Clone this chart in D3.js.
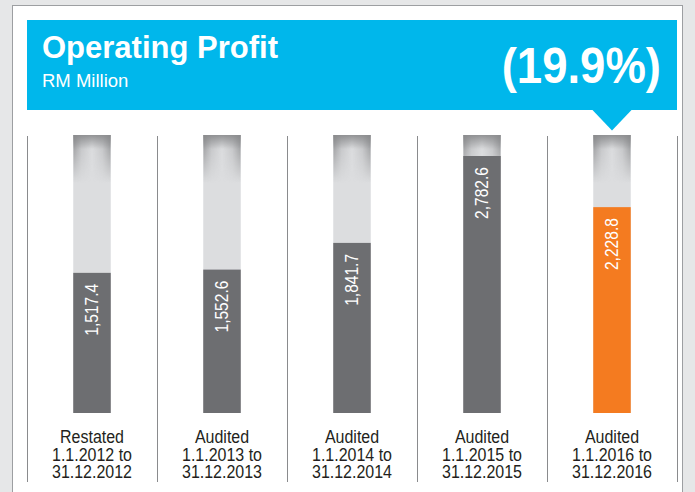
<!DOCTYPE html>
<html>
<head>
<meta charset="utf-8">
<script src="https://cdn.jsdelivr.net/npm/d3@7"></script>
<style>
  body { margin: 0; background: #e6e7e8; }
  text { font-family: "Liberation Sans", Arial, sans-serif; }
</style>
</head>
<body>
<script>
var periods = ['2012', '2013', '2014', '2015', '2016']
var statuses = ['Restated', 'Audited', 'Audited', 'Audited', 'Audited']
var fromDates = ['1.1.2012 to', '1.1.2013 to', '1.1.2014 to', '1.1.2015 to', '1.1.2016 to']
var toDates = ['31.12.2012', '31.12.2013', '31.12.2014', '31.12.2015', '31.12.2016']
var profit = [1517.4, 1552.6, 1841.7, 2782.6, 2228.8]
var highlight = '2016'
var change = '(19.9%)'

var W = 695, H = 492
var squeeze = 0.865 // the original type is a condensed face

var svg = d3.select('body').append('svg').attr('width', W).attr('height', H)

var defs = svg.append('defs')

var side = defs.append('linearGradient').attr('id', 'side')
side.append('stop').attr('offset', '0%').attr('stop-color', '#7d7e80').attr('stop-opacity', 0.85)
side.append('stop').attr('offset', '22%').attr('stop-color', '#7d7e80').attr('stop-opacity', 0.3)
side.append('stop').attr('offset', '50%').attr('stop-color', '#7d7e80').attr('stop-opacity', 0)
side.append('stop').attr('offset', '78%').attr('stop-color', '#7d7e80').attr('stop-opacity', 0.3)
side.append('stop').attr('offset', '100%').attr('stop-color', '#7d7e80').attr('stop-opacity', 0.85)

var fade = defs.append('linearGradient').attr('id', 'fade').attr('x1', 0).attr('x2', 0).attr('y1', 0).attr('y2', 1)
fade.append('stop').attr('offset', '0%').attr('stop-color', '#fff')
fade.append('stop').attr('offset', '100%').attr('stop-color', '#000')
defs.append('mask').attr('id', 'fadeMask').attr('maskContentUnits', 'objectBoundingBox')
  .append('rect').attr('width', 1).attr('height', 1).attr('fill', 'url(#fade)')

var topShade = defs.append('linearGradient').attr('id', 'topShade').attr('x1', 0).attr('x2', 0).attr('y1', 0).attr('y2', 1)
topShade.append('stop').attr('offset', '0%').attr('stop-color', '#8a8b8d').attr('stop-opacity', 0.9)
topShade.append('stop').attr('offset', '100%').attr('stop-color', '#8a8b8d').attr('stop-opacity', 0)

// outer frame
svg.append('rect').attr('width', W).attr('height', H).attr('fill', '#e6e7e8')
svg.append('rect').attr('x', 12.5).attr('y', 5.5).attr('width', 670).attr('height', H)
  .attr('fill', '#fff').attr('stroke', '#9d9fa2')

var x = d3.scaleBand().domain(periods).range([27, 677])
var y = d3.scaleLinear().domain([0, 3010]).range([413, 135])
var bw = 37.5

// header
var hx = x(highlight) + x.bandwidth() / 2
svg.append('rect').attr('x', 27).attr('y', 20).attr('width', 650).attr('height', 90).attr('fill', '#00b7eb')
svg.append('path').attr('d', 'M' + (hx - 20) + ',109.5L' + (hx + 20) + ',109.5L' + hx + ',130.5Z').attr('fill', '#00b7eb')

svg.append('text').attr('x', 42).attr('y', 58).attr('fill', '#fff')
  .style('font-size', '31px').style('font-weight', 'bold')
  .text('Operating Profit')
svg.append('text').attr('x', 42).attr('y', 87).attr('fill', '#fff')
  .style('font-size', '18.5px')
  .text('RM Million')
svg.append('text').attr('transform', 'translate(661,82.5) scale(0.91,1)').attr('fill', '#fff').attr('text-anchor', 'end')
  .style('font-size', '50px').style('font-weight', 'bold')
  .text(change)

// separators
svg.selectAll('line.sep').data(periods.concat(['end'])).enter().append('line')
  .attr('class', 'sep')
  .attr('x1', function(d, i){ return Math.round(27 + i * x.step()) + 0.5 })
  .attr('x2', function(d, i){ return Math.round(27 + i * x.step()) + 0.5 })
  .attr('y1', 136).attr('y2', 482)
  .attr('stroke', '#8a8b8d').attr('stroke-width', 1)

var g = svg.selectAll('g.bar').data(periods).enter().append('g')
  .attr('class', 'bar')
  .attr('transform', function(d){ return 'translate(' + (x(d) + x.bandwidth() / 2 - bw / 2) + ',0)' })

// background track
g.append('rect').attr('y', y(3010)).attr('width', bw).attr('height', y(0) - y(3010)).attr('fill', '#dcdddf')
g.append('rect').attr('y', y(3010)).attr('width', bw).attr('height', 48)
  .attr('fill', 'url(#side)').attr('mask', 'url(#fadeMask)')
g.append('rect').attr('y', y(3010)).attr('width', bw).attr('height', 14).attr('fill', 'url(#topShade)')

// value bars
g.append('rect')
  .attr('y', function(d, i){ return y(profit[i]) })
  .attr('width', bw)
  .attr('height', function(d, i){ return y(0) - y(profit[i]) })
  .attr('fill', function(d){ return d === highlight ? '#f47b20' : '#6d6e71' })

g.append('text')
  .attr('transform', function(d, i){
    return 'translate(' + (bw / 2) + ',' + (y(profit[i]) + 11) + ') rotate(-90) scale(' + squeeze + ',1)'
  })
  .attr('text-anchor', 'end').attr('dy', '0.36em')
  .attr('fill', '#fff').style('font-size', '18px')
  .text(function(d, i){ return d3.format(',.1f')(profit[i]) })

// category labels
var lab = g.append('text')
  .attr('transform', 'translate(' + (bw / 2) + ',0) scale(' + squeeze + ',1)')
  .attr('text-anchor', 'middle').attr('fill', '#231f20').style('font-size', '18.5px')
lab.append('tspan').attr('x', 0).attr('y', 443).text(function(d, i){ return statuses[i] })
lab.append('tspan').attr('x', 0).attr('y', 461).text(function(d, i){ return fromDates[i] })
lab.append('tspan').attr('x', 0).attr('y', 478.5).text(function(d, i){ return toDates[i] })
</script>
</body>
</html>
